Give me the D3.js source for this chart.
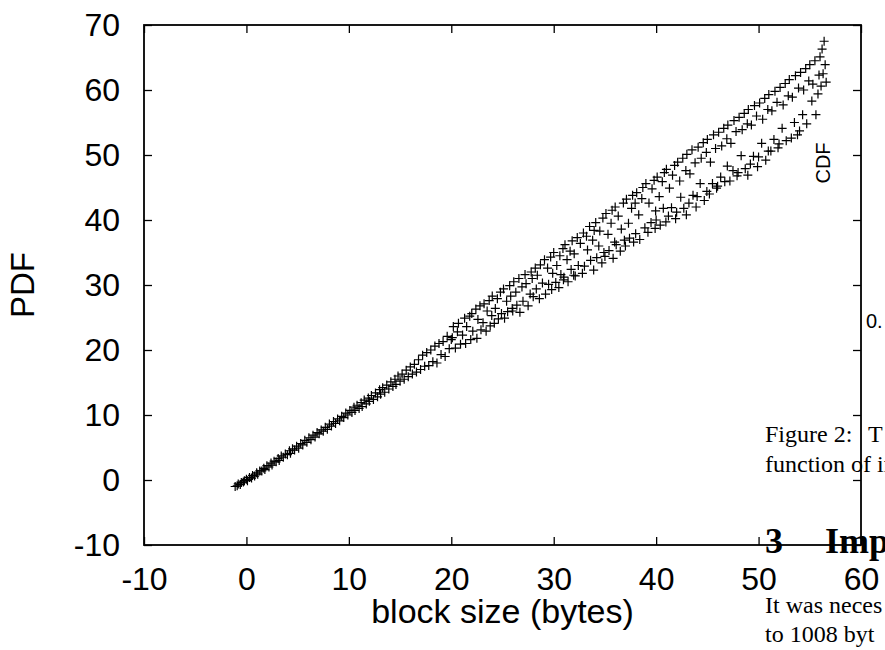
<!DOCTYPE html>
<html>
<head>
<meta charset="utf-8">
<script src="https://cdn.jsdelivr.net/npm/d3@7"></script>
<style>
  body { margin: 0; background: #fff; }
  svg { display: block; }
</style>
</head>
<body>
<div id="chart"></div>
<script>
const xTicks = [-10, 0, 10, 20, 30, 40, 50, 60];
const yTicks = [-10, 0, 10, 20, 30, 40, 50, 60, 70];

// block size vs PDF in runs
const tightRun = [
  [-1.1,-1.0],[-0.9,-0.9],[-0.8,-0.6],[-0.6,-0.7],[-0.5,-0.4],[-0.3,-0.3],[-0.2,-0.1],[0,0.1],[0.1,-0.1],[0.3,0.4],
  [0.5,0.3],[0.6,0.7],[0.8,0.6],[1.0,1.1],[1.1,0.9],[1.3,1.4],[1.5,1.4],[1.7,1.8],[1.8,1.6],[2.0,2.2],
  [2.2,2.0],[2.4,2.6],[2.5,2.3],[2.7,2.9],[2.9,2.8],[3.1,3.3],[3.2,3.0],[3.4,3.7],[3.6,3.5],[3.8,4.0],
  [4.0,3.9],[4.2,4.5],[4.3,4.1],[4.5,4.8],[4.7,4.6],[4.9,5.2],[5.1,4.9],[5.3,5.6],[5.5,5.4],[5.7,6.1],
  [5.9,5.8],[6.1,6.5],[6.3,6.2],[6.5,6.9],[6.7,6.6],[6.9,7.3],[7.1,7.1],[7.3,7.7],[7.5,7.5],[7.7,8.1],
  [7.9,7.8],[8.1,8.6],[8.3,8.3],[8.5,9.0],[8.7,8.7],[8.9,9.4],[9.1,9.1],[9.3,9.8],[9.5,9.6],[9.7,10.3],
  [9.9,10.0],[10.1,10.7]
];

const midRun = [
  [10.3,10.4],[10.5,11.2],[10.6,10.7],[10.8,11.5],[11.0,11.0],[11.2,11.9],[11.3,11.3],[11.5,12.3],[11.7,11.7],[11.9,12.6],
  [12.0,12.1],[12.2,13.0],[12.4,12.4],[12.6,13.4],[12.8,12.8],[13.0,13.9],[13.1,13.2],[13.3,14.2],[13.5,13.5],[13.7,14.6],
  [13.9,14.0],[14.1,15.1],[14.3,14.4],[14.5,15.5],[14.6,14.7],[14.8,16.0],[15.0,15.2],[15.2,16.3],[15.4,15.5],[15.6,16.9],
  [15.8,15.9],[16.0,17.4],[16.2,16.3],[16.4,17.8],[16.6,16.6],[16.8,18.5],[17.0,17.0],[17.2,19.2],[17.4,17.5],[17.6,19.6],
  [17.8,17.6],[18.0,20.0],[18.2,18.2],[18.4,20.6],[18.6,18.0],[18.8,21.0],[19.0,19.3],[19.2,21.3],[19.4,19.0],[19.6,22.1],
  [19.8,20.2],[20.0,21.6]
];

const bandLow = [
  [20.1,21.9],[20.2,23.6],[20.4,20.3],[20.6,22.8],[20.7,24.1],[20.9,20.9],
  [21.1,22.3],[21.3,24.9],[21.4,21.0],[21.5,23.6],[21.8,25.2],[21.9,21.6],
  [22.0,25.6],[22.1,22.9],[22.4,26.3],[22.5,21.8],[22.6,24.7],[22.8,26.8],[22.9,23.1],
  [23.1,24.2],[23.2,27.1],[23.4,22.9],[23.5,26.0],[23.7,27.6],[23.8,23.7],[23.95,25.3],
  [24.0,28.3],[24.2,24.1],[24.3,26.4],[24.5,27.9],[24.6,24.8],[24.8,28.9],[24.9,25.6],
  [25.1,29.4],[25.2,24.9],[25.4,27.5],[25.5,25.9],[25.7,29.9],[25.8,28.3],[25.95,26.4],
  [26.0,26.0],[26.1,30.5],[26.3,28.9],[26.4,26.9],[26.6,31.0],[26.7,25.8],[26.9,29.7],
  [27.0,27.5],[27.2,31.6],[27.3,30.2],[27.5,26.8],[27.7,28.6],[27.8,32.0],[27.9,31.0],
  [28.0,28.2],[28.2,32.6],[28.3,29.4],[28.4,31.5],[28.6,27.9],[28.7,33.1],[28.9,30.3],
  [29.1,33.9],[29.2,28.6],[29.4,32.6],[29.5,30.1],[29.7,34.3],[29.8,29.3],[29.9,31.8],
  [30.0,35.0],[30.2,30.4],[30.3,33.0],[30.5,29.6],[30.6,34.5],[30.7,31.6],[30.9,35.6],[30.95,30.8],
  [31.0,31.2],[31.1,36.2],[31.3,33.9],[31.4,30.5],[31.6,35.2],[31.7,32.4],[31.8,36.8],[31.95,31.5],
  [32.0,34.8],[32.1,31.4],[32.3,37.3],[32.4,33.0],[32.6,36.4],[32.8,31.8],[32.9,38.0],
  [33.0,32.9],[33.2,37.5],[33.3,35.4],[33.5,39.0],[33.6,33.8],[33.8,36.9],[33.9,32.3],[33.95,38.4],
  [34.1,39.6],[34.2,34.2],[34.4,36.0],[34.5,38.3],[34.7,33.4],[34.8,40.3],[34.9,35.0],
  [35.0,34.4],[35.1,41.0],[35.3,37.8],[35.4,35.3],[35.6,39.5],[35.7,41.5],[35.8,34.1],[35.95,36.6],
  [36.0,42.0],[36.1,36.2],[36.3,40.6],[36.5,35.2],[36.6,38.6],[36.8,42.6],[36.9,36.9],
  [37.0,36.0],[37.1,43.2],[37.3,39.5],[37.4,37.2],[37.6,41.8],[37.7,43.8],[37.8,36.6],[37.95,42.6]
];

const bandHigh = [
  [38.0,37.9],[38.1,44.2],[38.3,40.8],[38.4,37.0],[38.6,43.3],[38.7,45.0],[38.9,38.8],
  [39.0,45.6],[39.2,38.1],[39.3,42.6],[39.5,39.6],[39.6,44.8],[39.8,46.1],[39.9,38.7],[39.95,41.4],
  [40.0,40.0],[40.1,46.6],[40.3,43.6],[40.4,39.2],[40.6,45.9],[40.7,41.8],[40.8,47.3],[40.95,39.7],
  [41.0,47.8],[41.2,40.6],[41.3,44.9],[41.5,41.9],[41.6,46.9],[41.8,48.4],[41.9,40.2],
  [42.0,41.2],[42.1,48.9],[42.3,46.0],[42.4,43.5],[42.6,49.5],[42.7,41.8],[42.9,47.6],[42.95,40.8],
  [43.0,50.1],[43.2,42.6],[43.3,47.1],[43.5,50.8],[43.6,43.8],[43.8,48.8],[43.9,42.0],
  [44.0,43.6],[44.1,51.2],[44.3,45.6],[44.4,49.5],[44.6,51.9],[44.7,43.0],[44.9,50.4],[44.95,44.4],
  [45.0,52.4],[45.2,44.0],[45.3,48.9],[45.5,45.6],[45.6,53.1],[45.8,51.0],[45.9,44.9],
  [46.0,45.2],[46.1,53.5],[46.3,46.6],[46.4,51.4],[46.6,54.1],[46.7,45.9],[46.9,52.5],[46.95,48.3],
  [47.0,54.6],[47.2,46.0],[47.3,51.8],[47.5,47.6],[47.6,55.3],[47.8,53.6],[47.9,46.8],
  [48.0,47.3],[48.1,55.8],[48.3,49.9],[48.4,53.9],[48.6,56.4],[48.7,47.9],[48.9,54.8],[48.95,46.9],
  [49.0,57.0],[49.2,48.6],[49.3,54.6],[49.5,49.8],[49.6,57.6],[49.8,56.0],[49.9,48.2],
  [50.0,49.7],[50.1,58.0],[50.3,51.8],[50.4,55.5],[50.6,58.7],[50.7,49.2],[50.9,57.0],[50.95,50.6],
  [51.0,59.3],[51.2,50.6],[51.3,56.8],[51.5,52.4],[51.6,59.8],[51.8,58.1],[51.9,51.1],
  [52.0,51.7],[52.1,60.4],[52.3,54.1],[52.4,57.7],[52.6,61.0],[52.7,52.2],[52.9,59.1],
  [53.0,61.6],[53.2,52.6],[53.3,58.9],[53.5,55.0],[53.6,62.2],[53.8,53.1],[53.9,60.3],
  [54.0,53.7],[54.1,62.7],[54.3,56.2],[54.4,60.0],[54.6,63.3],[54.7,54.8],[54.9,61.4],
  [55.0,63.9],[55.2,58.3],[55.3,60.9],[55.5,64.5],[55.6,56.2],[55.8,59.4],[55.9,62.3],
  [56.0,65.1],[56.1,60.6],[56.2,66.3],[56.3,62.5],[56.4,67.5],[56.5,63.9],[56.6,61.2]
];

const points = [...tightRun, ...midRun, ...bandLow, ...bandHigh];

const width = 885;
const height = 650;

const x = d3.scaleLinear().domain([-10, 60]).range([144, 861]);
const y = d3.scaleLinear().domain([-10, 70]).range([545, 25]);

const svg = d3.select("#chart")
  .append("svg")
    .attr("width", width)
    .attr("height", height)
    .attr("viewBox", [0, 0, width, height]);

const sans = "'Liberation Sans', Arial, sans-serif";
const serif = "'Liberation Serif', 'Times New Roman', serif";
const plain = d => String(d); // keep a plain hyphen for negatives

// points
svg.append("g")
    .attr("stroke", "#000")
    .attr("stroke-width", 1.2)
    .attr("fill", "none")
  .selectAll("path")
  .data(points)
  .join("path")
    .attr("transform", d => `translate(${x(d[0])},${y(d[1])})`)
    .attr("d", "M-4.5,0H4.5M0,-4.5V4.5");

// axes, ticks pointing inward on every side
svg.append("g")
    .attr("transform", `translate(0,${y(-10)})`)
    .call(d3.axisBottom(x).tickValues(xTicks).tickFormat(plain).tickSizeInner(-8).tickSizeOuter(0).tickPadding(22))
    .call(g => g.select(".domain").remove())
    .call(g => g.selectAll("text").attr("font-size", 32).attr("font-family", sans).attr("fill", "#000"));

svg.append("g")
    .attr("transform", `translate(${x(-10)},0)`)
    .call(d3.axisLeft(y).tickValues(yTicks).tickFormat(plain).tickSizeInner(-8).tickSizeOuter(0).tickPadding(24))
    .call(g => g.select(".domain").remove())
    .call(g => g.selectAll("text").attr("font-size", 32).attr("font-family", sans).attr("fill", "#000"));

svg.append("g")
    .attr("transform", `translate(0,${y(70)})`)
    .call(d3.axisTop(x).tickValues(xTicks).tickSizeInner(-8).tickSizeOuter(0).tickFormat(""))
    .call(g => g.select(".domain").remove());

svg.append("g")
    .attr("transform", `translate(${x(60)},0)`)
    .call(d3.axisRight(y).tickValues(yTicks).tickSizeInner(-8).tickSizeOuter(0).tickFormat(""))
    .call(g => g.select(".domain").remove());

svg.selectAll(".tick line").attr("stroke", "#000").attr("stroke-width", 1.3);

svg.append("rect")
    .attr("x", x(-10))
    .attr("y", y(70))
    .attr("width", x(60) - x(-10))
    .attr("height", y(-10) - y(70))
    .attr("fill", "none")
    .attr("stroke", "#000")
    .attr("stroke-width", 1.8);

// axis titles
svg.append("text")
    .attr("transform", `translate(34,${(y(70) + y(-10)) / 2}) rotate(-90)`)
    .attr("text-anchor", "middle")
    .attr("font-family", sans)
    .attr("font-size", 33)
    .text("PDF");

svg.append("text")
    .attr("x", (x(-10) + x(60)) / 2)
    .attr("y", 623)
    .attr("text-anchor", "middle")
    .attr("font-family", sans)
    .attr("font-size", 34)
    .text("block size (bytes)");

// pieces of the neighbouring figure and page text
svg.append("text")
    .attr("transform", "translate(830,163) rotate(-90)")
    .attr("text-anchor", "middle")
    .attr("font-family", sans)
    .attr("font-size", 20)
    .text("CDF");

svg.append("text")
    .attr("x", 866).attr("y", 328)
    .attr("font-family", sans)
    .attr("font-size", 20)
    .text("0.");

const page = svg.append("g").attr("font-family", serif).attr("font-size", 24);
page.append("text").attr("x", 765).attr("y", 442).text("Figure 2:");
page.append("text").attr("x", 868).attr("y", 442).text("T");
page.append("text").attr("x", 765).attr("y", 472).text("function of in");
page.append("text").attr("x", 765).attr("y", 613).text("It was neces");
page.append("text").attr("x", 765).attr("y", 642).text("to 1008 byt");

const head = svg.append("g").attr("font-family", serif).attr("font-size", 36).attr("font-weight", "bold");
head.append("text").attr("x", 765).attr("y", 553).text("3");
head.append("text").attr("x", 825).attr("y", 553).text("Imp");
</script>
</body>
</html>
